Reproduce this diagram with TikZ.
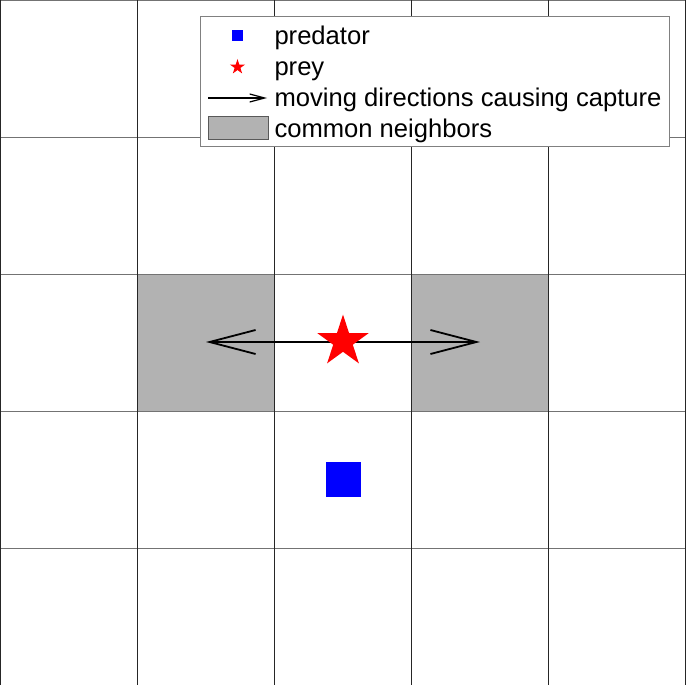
\documentclass[tikz,border=0pt]{standalone}
\usepackage{fontspec}
\setmainfont{Liberation Sans}
\usetikzlibrary{shapes.geometric,arrows.meta}
\definecolor{cellgray}{gray}{0.7}
\tikzset{
  vline/.style={draw=black!85,line width=0.9pt},
  hline/.style={draw=black!55,line width=0.9pt},
  legtext/.style={anchor=base west,inner sep=0,font=\fontsize{25.6pt}{30pt}\selectfont},
  preystar/.style={star,star points=5,star point ratio=2.618,fill=red,draw=none,inner sep=0},
  predsq/.style={rectangle,fill=blue,draw=none,inner sep=0},
  dirarrow/.style={black,line width=1.5pt,-{Straight Barb[length=46pt,width=24pt,line width=1.8pt]}},
}
\begin{document}
\begin{tikzpicture}[x=1pt,y=-1pt]
\useasboundingbox (0,0) rectangle (686,685);
\fill[white] (0,0) rectangle (686,685);
% common neighbor cells
\fill[cellgray] (137,274) rectangle (274,411);
\fill[cellgray] (411,274) rectangle (548,411);
% grid
\foreach \y in {0.5,137,274,411,548} \draw[hline] (0,\y) -- (686,\y);
\foreach \x in {0.6,137,274,411,548,685.4} \draw[vline] (\x,0) -- (\x,685);
% arrows
\coordinate (ctr) at (343,342);
\coordinate (ltip) at (206,342);
\coordinate (rtip) at (480,342);
\draw[dirarrow] (ctr) -- (ltip);
\draw[dirarrow] (ctr) -- (rtip);
% prey and predator
\node[preystar,minimum size=54pt] (prey) at (343,341.5) {};
\node[predsq,minimum size=35pt] (pred) at (343.3,479.3) {};
% legend
\node[draw=black!50,fill=white,line width=0.8pt,minimum width=469pt,minimum height=130.5pt,inner sep=0] (legend) at (434.8,81.3) {};
\node[predsq,minimum size=10.5pt] (lpred) at (237.5,35.5) {};
\node[preystar,minimum size=16pt] (lprey) at (237.5,67) {};
\coordinate (la0) at (208.3,98);
\coordinate (la1) at (267,98);
\draw[black,line width=1.2pt,-{Straight Barb[length=15pt,width=8pt,line width=1.2pt]}] (la0) -- (la1);
\node[fill=cellgray,draw=black!65,line width=0.8pt,minimum width=60pt,minimum height=22.6pt,inner sep=0] (lcell) at (238.2,128) {};
\node[legtext] (t1) at (274.3,44.5) {predator};
\node[legtext] (t2) at (274.3,75.5) {prey};
\node[legtext] (t3) at (274.3,106.5) {moving directions causing capture};
\node[legtext] (t4) at (274.3,137.5) {common neighbors};
\end{tikzpicture}
\end{document}
